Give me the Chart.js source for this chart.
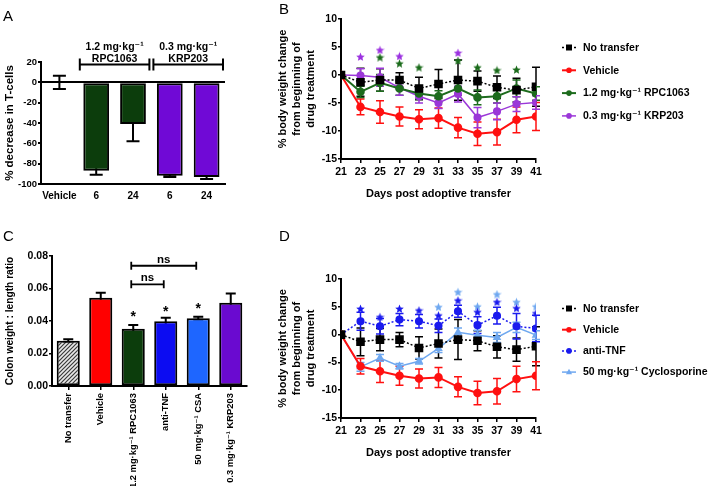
<!DOCTYPE html>
<html>
<head>
<meta charset="utf-8">
<script src="https://cdn.jsdelivr.net/npm/chart.js@4.4.1/dist/chart.umd.min.js"></script>
<style>
  body { margin: 0; background: #fff; }
  #wrap { position: relative; width: 709px; height: 486px; overflow: hidden; font-family: "Liberation Sans", Arial, sans-serif; }
  #wrap canvas { position: absolute; }
  .tag { position: absolute; font-size: 15px; line-height: 15px; color: #000; }
</style>
</head>
<body>
<div id="wrap">
  <canvas id="chartA" width="240" height="232" style="left:0;top:0"></canvas>
  <canvas id="chartB" width="469" height="240" style="left:240px;top:0"></canvas>
  <canvas id="chartC" width="250" height="246" style="left:0;top:240px"></canvas>
  <canvas id="chartD" width="469" height="246" style="left:240px;top:240px"></canvas>
  <div class="tag" style="left:3px;top:8px">A</div>
  <div class="tag" style="left:279px;top:1px">B</div>
  <div class="tag" style="left:3px;top:228px">C</div>
  <div class="tag" style="left:279px;top:228px">D</div>
</div>
<script>
// Panel A - T-cell decrease
const aLabels = ['Vehicle', '6', '24', '6', '24'];
const aValues = [0, -87, -41, -92, -93];
const aErrors = [6.5, 4, 17, 1, 2];
const aGroups = [
  { from: 1, to: 2, text: ['1.2 mg·kg⁻¹', 'RPC1063'] },
  { from: 3, to: 4, text: ['0.3 mg·kg⁻¹', 'KRP203'] }
];

// Panels B and D - body weight change
const days = [21, 23, 25, 27, 29, 31, 33, 35, 37, 39, 41];
const noTransfer      = [0, -1.3, -0.9, -0.9, -2.4, -1.6, -0.9, -1.1, -2.2, -2.7, -2.1];
const noTransferErr   = [0, 2.5, 2.0, 1.3, 2.0, 2.6, 3.6, 1.8, 2.0, 2.1, 3.5];
const vehicle         = [0, -5.7, -6.6, -7.4, -7.9, -7.7, -9.4, -10.5, -10.2, -8.0, -7.4];
const vehicleErr      = [0, 1.4, 2.0, 1.7, 1.7, 1.8, 1.8, 2.1, 2.3, 2.3, 2.5];
const rpc1063         = [0, -3.0, -1.4, -2.4, -3.3, -3.8, -2.4, -4.0, -3.8, -2.4, -3.3];
const rpc1063Err      = [0, 1.0, 1.5, 1.2, 1.0, 1.0, 1.2, 1.3, 1.2, 1.5, 1.2];
const krp203          = [0, -0.1, -0.4, -2.3, -3.8, -5.0, -3.4, -7.6, -6.5, -5.2, -4.9];
const krp203Err       = [0, 1.2, 1.6, 1.3, 1.2, 1.0, 1.4, 1.8, 1.5, 1.3, 1.2];
const antiTNF         = [0, 2.4, 1.5, 2.7, 2.4, 1.6, 4.2, 1.7, 3.4, 1.5, 1.1];
const antiTNFErr      = [0, 1.6, 1.4, 1.1, 1.2, 1.2, 1.1, 1.5, 1.5, 2.3, 2.4];
const cyclosporine    = [0, -5.8, -4.2, -5.7, -4.8, -2.5, 0.4, -0.1, -0.5, 1.3, -0.1];
const cyclosporineErr = [0, 0.8, 0.6, 0.5, 0.5, 0.7, 0.8, 0.9, 0.9, 0.9, 0.8];

// significance stars (day, height)
const krpStarDays = [23, 25, 27, 33];
const krpStarY    = [3.3, 4.5, 3.4, 4.0];
const rpcStarDays = [25, 27, 29, 33, 35, 37, 39];
const rpcStarY    = [3.2, 2.1, 1.4, 2.6, 1.4, 0.9, 1.0];
const tnfStarDays = [23, 25, 27, 29, 31, 33, 35, 37, 39, 41];
const tnfStarY    = [4.7, 3.2, 4.7, 4.4, 3.5, 6.2, 4.1, 5.9, 4.8, 3.9];
const csaStarDays = [31, 33, 35, 37, 39, 41];
const csaStarY    = [5.0, 7.7, 5.1, 7.3, 5.9, 5.1];

// Panel C - colon weight : length
const cLabels = ['No transfer', 'Vehicle', '1.2 mg·kg⁻¹ RPC1063', 'anti-TNF', '50 mg·kg⁻¹ CSA', '0.3 mg·kg⁻¹ KRP203'];
const cValues = [0.0278, 0.0543, 0.0352, 0.0398, 0.0417, 0.0513];
const cErrors = [0.0009, 0.0031, 0.0023, 0.0022, 0.0009, 0.0057];
const cStarY  = [null, null, 0.0451, 0.0478, 0.0498, null];
const cNs     = [[2, 3, 0.0626], [2, 4, 0.074]];

const FONT = '"Liberation Sans", Arial, "DejaVu Sans", sans-serif';
Chart.defaults.font.family = FONT;
Chart.defaults.font.weight = 'bold';
Chart.defaults.font.size = 10.5;
Chart.defaults.color = '#000';
Chart.defaults.animation = false;
Chart.defaults.events = [];
Chart.defaults.plugins.legend.display = false;
Chart.defaults.plugins.tooltip.enabled = false;

const GREEN_DARK = '#0c3d0c';
const PURPLE_DARK = '#7009d6';
const GREEN = '#1d6b1d';
const PURPLE = '#9b37d8';
const RED = '#ff1010';
const BLUE = '#1a1aee';
const LIGHT_BLUE = '#6fa8f0';

// error bars drawn before the marks, so bars hide the inner half
const errorBars = {
  id: 'errorBars',
  beforeDatasetsDraw(chart, args, opts) {
    const { ctx, scales: { y } } = chart;
    chart.data.datasets.forEach((ds, i) => {
      if (!ds.errors) return;
      const meta = chart.getDatasetMeta(i);
      ctx.save();
      ctx.strokeStyle = ds.errorColor || ds.borderColor;
      ctx.lineWidth = opts.lineWidth || 1.5;
      ctx.beginPath();
      meta.data.forEach((pt, j) => {
        const e = ds.errors[j];
        if (!e) return;
        const raw = ds.data[j];
        const v = typeof raw === 'object' ? raw.y : raw;
        const hi = y.getPixelForValue(v + e), lo = y.getPixelForValue(v - e);
        const c = opts.cap || 4;
        ctx.moveTo(pt.x, hi); ctx.lineTo(pt.x, lo);
        ctx.moveTo(pt.x - c, hi); ctx.lineTo(pt.x + c, hi);
        ctx.moveTo(pt.x - c, lo); ctx.lineTo(pt.x + c, lo);
      });
      ctx.stroke();
      ctx.restore();
    });
  }
};

// brackets with two-line headings over bar groups (panel A)
const groupLabels = {
  id: 'groupLabels',
  afterDraw(chart, args, opts) {
    if (!opts.groups) return;
    const { ctx, scales: { x, y } } = chart;
    const half = (x.getPixelForValue(1) - x.getPixelForValue(0)) / 2;
    const py = y.getPixelForValue(opts.at);
    ctx.save();
    ctx.strokeStyle = '#000';
    ctx.fillStyle = '#000';
    ctx.lineWidth = 2;
    ctx.font = 'bold 10.5px ' + FONT;
    ctx.textAlign = 'center';
    opts.groups.forEach(g => {
      const x0 = x.getPixelForValue(g.from) - half + 2;
      const x1 = x.getPixelForValue(g.to) + half - 2;
      ctx.beginPath();
      ctx.moveTo(x0, py); ctx.lineTo(x1, py);
      ctx.moveTo(x0, py - 6); ctx.lineTo(x0, py + 6);
      ctx.moveTo(x1, py - 6); ctx.lineTo(x1, py + 6);
      ctx.stroke();
      ctx.fillText(g.text[0], (x0 + x1) / 2, py - 15);
      ctx.fillText(g.text[1], (x0 + x1) / 2, py - 2.5);
    });
    ctx.restore();
  }
};

// asterisks and "ns" brackets (panel C)
const sigMarks = {
  id: 'sigMarks',
  afterDatasetsDraw(chart, args, opts) {
    const { ctx, scales: { x, y } } = chart;
    ctx.save();
    ctx.fillStyle = '#000';
    ctx.strokeStyle = '#000';
    ctx.lineWidth = 1.8;
    ctx.textAlign = 'center';
    ctx.font = 'bold 14px ' + FONT;
    (opts.stars || []).forEach((v, i) => {
      if (v == null) return;
      ctx.fillText('*', x.getPixelForValue(i), y.getPixelForValue(v) + 7.8);
    });
    ctx.font = 'bold 11.5px ' + FONT;
    (opts.brackets || []).forEach(([a, b, v]) => {
      const x0 = x.getPixelForValue(a) - 2, x1 = x.getPixelForValue(b) - 2;
      const py = y.getPixelForValue(v);
      ctx.beginPath();
      ctx.moveTo(x0, py); ctx.lineTo(x1, py);
      ctx.moveTo(x0, py - 4); ctx.lineTo(x0, py + 4);
      ctx.moveTo(x1, py - 4); ctx.lineTo(x1, py + 4);
      ctx.stroke();
      ctx.fillText('ns', (x0 + x1) / 2, py - 3);
    });
    ctx.restore();
  }
};

function drawMarker(ctx, style, x, y, r) {
  ctx.beginPath();
  if (style === 'rect') {
    ctx.rect(x - r, y - r, 2 * r, 2 * r);
  } else if (style === 'triangle') {
    ctx.moveTo(x, y - r * 1.2);
    ctx.lineTo(x + r * 1.1, y + r * 0.8);
    ctx.lineTo(x - r * 1.1, y + r * 0.8);
    ctx.closePath();
  } else {
    ctx.arc(x, y, r, 0, Math.PI * 2);
  }
  ctx.fill();
}

// legend to the right of the line plots
const sideLegend = {
  id: 'sideLegend',
  afterDraw(chart, args, opts) {
    if (opts.x == null) return;
    const ctx = chart.ctx;
    let y = opts.y;
    chart.data.datasets.forEach(ds => {
      if (ds.noLegend) return;
      ctx.save();
      ctx.strokeStyle = ds.borderColor;
      ctx.lineWidth = ds.borderWidth;
      ctx.setLineDash(ds.borderDash || []);
      ctx.beginPath();
      ctx.moveTo(opts.x, y); ctx.lineTo(opts.x + opts.len, y);
      ctx.stroke();
      ctx.setLineDash([]);
      ctx.fillStyle = ds.pointBackgroundColor;
      drawMarker(ctx, ds.pointStyle, opts.x + opts.len / 2, y, ds.pointStyle === 'rect' ? 3 : 2.8);
      ctx.fillStyle = '#000';
      ctx.font = 'bold 10.5px ' + FONT;
      ctx.textBaseline = 'middle';
      ctx.fillText(ds.label, opts.x + opts.len + 7, y + 0.5);
      ctx.restore();
      y += opts.step;
    });
  }
};

function starImage(color, size) {
  const c = document.createElement('canvas');
  c.width = c.height = size;
  const g = c.getContext('2d');
  const r = size / 2, ri = r * 0.45;
  g.beginPath();
  for (let k = 0; k < 10; k++) {
    const rad = k % 2 ? ri : r;
    const a = -Math.PI / 2 + k * Math.PI / 5;
    g.lineTo(r + rad * Math.cos(a), r + 0.6 + rad * Math.sin(a));
  }
  g.closePath();
  g.fillStyle = color;
  g.fill();
  return c;
}

function hatch() {
  const c = document.createElement('canvas');
  c.width = c.height = 4;
  const g = c.getContext('2d');
  g.fillStyle = '#e8e8e8';
  g.fillRect(0, 0, 4, 4);
  g.strokeStyle = '#3a3a3a';
  g.lineWidth = 1.2;
  g.beginPath();
  g.moveTo(0, 4); g.lineTo(4, 0);
  g.moveTo(-1, 1); g.lineTo(1, -1);
  g.moveTo(3, 5); g.lineTo(5, 3);
  g.stroke();
  return g.createPattern(c, 'repeat');
}

function series(label, values, errors, color, extra) {
  return Object.assign({
    label: label,
    data: days.map((d, i) => ({ x: d, y: values[i] })),
    errors: errors,
    borderColor: color,
    backgroundColor: color,
    pointBackgroundColor: color,
    pointBorderColor: color,
    borderWidth: 2,
    pointRadius: 3.3,
    pointStyle: 'circle',
    tension: 0
  }, extra || {});
}

function stars(starDays, starY, color) {
  return {
    data: starDays.map((d, i) => ({ x: d, y: starY[i] })),
    showLine: false,
    pointStyle: starImage(color, 9),
    pointRadius: 4,
    noLegend: true
  };
}

function weightScales(xHeight, titleBottom) {
  return {
    x: {
      type: 'linear', min: 21, max: 41,
      afterFit: s => { s.height = xHeight; },
      ticks: { stepSize: 2, padding: 2.4, autoSkip: false, maxRotation: 0 },
      grid: { drawOnChartArea: false, color: '#000', lineWidth: 1.5, tickLength: 4 },
      border: { color: '#000', width: 2 },
      title: { display: true, text: 'Days post adoptive transfer', font: { size: 11 }, padding: { top: 0, bottom: titleBottom } }
    },
    y: {
      min: -15, max: 10,
      afterFit: s => { s.width = 101; },
      ticks: { stepSize: 5, padding: 1 },
      grid: { drawOnChartArea: false, color: '#000', lineWidth: 1.5, tickLength: 3 },
      border: { color: '#000', width: 2 },
      title: {
        display: true,
        text: ['% body weight change', 'from beginning of', 'drug treatment'],
        font: { size: 11, lineHeight: 1.27 },
        padding: { top: 36, bottom: 0 }
      }
    }
  };
}

// A
new Chart(document.getElementById('chartA'), {
  type: 'bar',
  data: {
    labels: aLabels,
    datasets: [{
      data: aValues,
      errors: aErrors,
      errorColor: '#000',
      backgroundColor: ['#000', GREEN_DARK, GREEN_DARK, PURPLE_DARK, PURPLE_DARK],
      borderColor: '#000',
      borderWidth: 2,
      borderSkipped: false,
      barPercentage: 0.7,
      categoryPercentage: 1
    }]
  },
  options: {
    responsive: false,
    layout: { padding: { top: 62, right: 15, left: 0, bottom: 0 } },
    plugins: {
      errorBars: { cap: 6.5, lineWidth: 2 },
      groupLabels: { at: 17.5, groups: aGroups }
    },
    scales: {
      x: {
        afterFit: s => { s.height = 48; },
        ticks: { font: { size: 10 }, padding: 6.5, maxRotation: 0, autoSkip: false },
        grid: { display: false, drawTicks: false },
        border: { color: '#000', width: 2 }
      },
      y: {
        min: -100, max: 20,
        afterFit: s => { s.width = 41; },
        ticks: { stepSize: 20, font: { size: 9.5 }, padding: 1 },
        grid: {
          color: c => (c.tick && c.tick.value === 0 ? '#000' : 'rgba(0,0,0,0)'),
          tickColor: '#000', lineWidth: 2, tickLength: 3
        },
        border: { color: '#000', width: 2 },
        title: { display: true, text: '% decrease in T-cells', font: { size: 11.5 }, padding: { top: 3, bottom: 0 } }
      }
    }
  },
  plugins: [errorBars, groupLabels]
});

// B
new Chart(document.getElementById('chartB'), {
  type: 'line',
  data: {
    datasets: [
      series('No transfer', noTransfer, noTransferErr, '#000', { borderDash: [2, 2], borderWidth: 1.5, pointStyle: 'rect', pointRadius: 5 }),
      series('Vehicle', vehicle, vehicleErr, RED),
      series('1.2 mg·kg⁻¹ RPC1063', rpc1063, rpc1063Err, GREEN),
      series('0.3 mg·kg⁻¹ KRP203', krp203, krp203Err, PURPLE, { borderWidth: 1.5 }),
      stars(krpStarDays, krpStarY, '#9b30e0'),
      stars(rpcStarDays, rpcStarY, '#1a6b1a')
    ]
  },
  options: {
    responsive: false,
    layout: { padding: { top: 19, right: 173, left: 0, bottom: 0 } },
    plugins: {
      errorBars: { cap: 4, lineWidth: 1.5 },
      sideLegend: { x: 322, len: 14, y: 47.5, step: 22.8 }
    },
    scales: weightScales(81, 39.4)
  },
  plugins: [errorBars, sideLegend]
});

// C
new Chart(document.getElementById('chartC'), {
  type: 'bar',
  data: {
    labels: cLabels,
    datasets: [{
      data: cValues,
      errors: cErrors,
      errorColor: '#000',
      backgroundColor: [hatch(), '#ff0000', GREEN_DARK, '#0c0cf2', '#1e66ff', '#6a0ad0'],
      borderColor: '#000',
      borderWidth: 2,
      borderSkipped: false,
      barPercentage: 0.71,
      categoryPercentage: 1
    }]
  },
  options: {
    responsive: false,
    layout: { padding: { top: 16, right: 3, left: 0, bottom: 0 } },
    plugins: {
      errorBars: { cap: 5, lineWidth: 2 },
      sigMarks: { stars: cStarY, brackets: cNs }
    },
    scales: {
      x: {
        afterFit: s => { s.height = 100; },
        ticks: { autoSkip: false, maxRotation: 90, minRotation: 90, font: { size: 9.4 }, padding: 3 },
        grid: { offset: false, drawOnChartArea: false, color: '#000', lineWidth: 1.5, tickLength: 4 },
        border: { color: '#000', width: 2 }
      },
      y: {
        min: 0, max: 0.08,
        afterFit: s => { s.width = 52; },
        ticks: { stepSize: 0.02, padding: 1, callback: v => v.toFixed(2) },
        grid: { drawOnChartArea: false, color: '#000', lineWidth: 1.5, tickLength: 3 },
        border: { color: '#000', width: 2 },
        title: { display: true, text: 'Colon weight : length ratio', font: { size: 10.2 }, padding: { top: 4, bottom: 0 } }
      }
    }
  },
  plugins: [errorBars, sigMarks]
});

// D
new Chart(document.getElementById('chartD'), {
  type: 'line',
  data: {
    datasets: [
      series('No transfer', noTransfer, noTransferErr, '#000', { borderDash: [2, 2], borderWidth: 1.5, pointStyle: 'rect', pointRadius: 5 }),
      series('Vehicle', vehicle, vehicleErr, RED),
      series('anti-TNF', antiTNF, antiTNFErr, BLUE, { borderDash: [2, 2], borderWidth: 1.5 }),
      series('50 mg·kg⁻¹ Cyclosporine', cyclosporine, cyclosporineErr, LIGHT_BLUE, { borderWidth: 1.5, pointStyle: 'triangle', pointRadius: 3.5 }),
      stars(tnfStarDays, tnfStarY, BLUE),
      stars(csaStarDays, csaStarY, LIGHT_BLUE)
    ]
  },
  options: {
    responsive: false,
    layout: { padding: { top: 39, right: 173, left: 0, bottom: 0 } },
    plugins: {
      errorBars: { cap: 4, lineWidth: 1.5 },
      sideLegend: { x: 322, len: 14, y: 68.5, step: 21.2 }
    },
    scales: weightScales(68, 26.4)
  },
  plugins: [errorBars, sideLegend]
});
</script>
</body>
</html>
